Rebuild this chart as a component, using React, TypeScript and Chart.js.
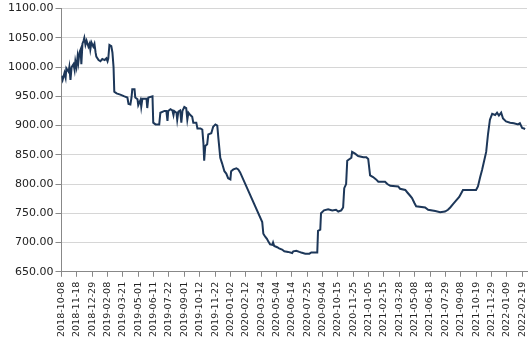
import React, { useEffect, useRef } from "react";
import { Chart, registerables } from "chart.js";

Chart.register(...registerables);

const START_DATE = "2018-10-08";

// days since START_DATE
const dayOffsets: number[] = [
  0, 3, 8, 11, 13, 19, 21, 24, 27, 32, 35, 37, 40, 43, 45, 48, 51, 53, 56, 59,
  61, 64, 67, 72, 75, 77, 80, 85, 88, 91, 93, 99, 104, 109, 115, 120, 123, 125, 128, 133,
  136, 139, 141, 147, 157, 168, 176, 179, 184, 187, 189, 195, 197, 203, 205, 211, 213, 216, 227, 229,
  232, 243, 245, 251, 261, 264, 275, 280, 283, 285, 291, 296, 299, 301, 307, 309, 312, 317, 320, 323,
  328, 333, 336, 339, 344, 349, 352, 360, 363, 371, 376, 379, 381, 384, 389, 392, 400, 405, 411, 416,
  419, 424, 429, 435, 440, 445, 451, 453, 459, 467, 472, 477, 536, 539, 544, 549, 552, 557, 563, 565,
  568, 576, 581, 589, 595, 605, 616, 619, 627, 635, 640, 651, 662, 667, 683, 685, 691, 693, 701, 712,
  723, 733, 739, 747, 752, 755, 760, 763, 774, 776, 784, 792, 806, 814, 819, 824, 832, 840, 846, 864,
  870, 878, 899, 904, 918, 923, 931, 936, 942, 947, 971, 979, 998, 1011, 1024, 1032, 1038, 1046, 1054, 1062,
  1067, 1072, 1091, 1107, 1112, 1118, 1123, 1128, 1134, 1139, 1144, 1150, 1158, 1163, 1168, 1174, 1179, 1187, 1198, 1208,
  1219, 1224, 1230, 1235, 1238,
];

const prices: number[] = [
  985, 978, 990, 982, 998, 992, 1000, 978, 1000, 1005, 995, 1010, 1000, 1018, 1008, 1025, 1030, 1005, 1040, 1045,
  1050, 1038, 1045, 1035, 1040, 1030, 1042, 1035, 1040, 1025, 1018, 1012, 1010, 1014, 1012, 1015, 1010, 1015, 1038, 1036,
  1025, 1000, 958, 955, 953, 950, 948, 937, 936, 948, 962, 962, 948, 945, 935, 944, 932, 946, 946, 930,
  948, 950, 905, 902, 902, 922, 925, 925, 908, 925, 928, 926, 918, 925, 922, 910, 924, 926, 905, 925,
  932, 930, 910, 922, 918, 915, 905, 905, 895, 895, 893, 870, 840, 865, 868, 885, 887, 898, 902, 900,
  878, 845, 835, 822, 818, 810, 808, 822, 825, 827, 825, 820, 735, 715, 710, 706, 702, 697, 696, 700,
  694, 692, 690, 688, 685, 684, 682, 685, 686, 684, 683, 681, 681, 683, 683, 720, 722, 750, 755, 757,
  755, 756, 753, 755, 760, 793, 800, 840, 845, 855, 852, 848, 846, 846, 843, 815, 812, 808, 804, 804,
  800, 797, 796, 792, 790, 786, 780, 776, 768, 762, 760, 756, 754, 752, 753, 756, 760, 766, 772, 778,
  784, 790, 790, 790, 796, 812, 824, 838, 855, 886, 910, 920, 918, 922, 917, 922, 912, 907, 905, 904,
  902, 904, 896, 895, 894,
];

const tickLabels: string[] = [
  "2018-10-08", "2018-11-18", "2018-12-29", "2019-02-08", "2019-03-21", "2019-05-01",
  "2019-06-11", "2019-07-22", "2019-09-01", "2019-10-12", "2019-11-22", "2020-01-02",
  "2020-02-12", "2020-03-24", "2020-05-04", "2020-06-14", "2020-07-25", "2020-09-04",
  "2020-10-15", "2020-11-25", "2021-01-05", "2021-02-15", "2021-03-28", "2021-05-08",
  "2021-06-18", "2021-07-29", "2021-09-08", "2021-10-19", "2021-11-29", "2022-01-09",
  "2022-02-19",
];

const X_MAX_DAY = 1243;

const dayOf = (s: string) =>
  Math.round((Date.parse(s) - Date.parse(START_DATE)) / 86400000);

export default function App() {
  const ref = useRef<HTMLCanvasElement | null>(null);

  useEffect(() => {
    if (!ref.current) return;
    const tickDays = tickLabels.map(dayOf);
    const labelByDay = new Map<number, string>();
    tickLabels.forEach((l, i) => labelByDay.set(tickDays[i], l));
    const points = dayOffsets.map((d, i) => ({ x: d, y: prices[i] }));

    const chart = new Chart(ref.current, {
      type: "line",
      data: {
        datasets: [
          {
            data: points,
            borderColor: "#1d3759",
            borderWidth: 2,
            pointRadius: 0,
            tension: 0,
            fill: false,
          },
        ],
      },
      options: {
        responsive: false,
        animation: false,
        layout: { padding: { left: 6, right: 3, top: 0, bottom: 12 } },
        plugins: { legend: { display: false }, tooltip: { enabled: false } },
        scales: {
          x: {
            type: "linear",
            min: 0,
            max: X_MAX_DAY,
            afterBuildTicks: (axis: any) => {
              axis.ticks = tickDays.map((v) => ({ value: v }));
            },
            afterFit: (axis: any) => {
              axis.paddingRight = 0;
              axis.paddingLeft = 0;
            },
            ticks: {
              autoSkip: false,
              minRotation: 90,
              maxRotation: 90,
              padding: 5,
              color: "#222",
              font: { family: "DejaVu Sans", size: 9.5 },
              callback: (v: any) => labelByDay.get(Number(v)) ?? "",
            },
            grid: {
              drawOnChartArea: false,
              drawTicks: true,
              tickLength: 5,
              tickColor: "#888",
            },
            border: { color: "#888", width: 1 },
          },
          y: {
            min: 650,
            max: 1100,
            ticks: {
              stepSize: 50,
              padding: 2,
              color: "#222",
              font: { family: "DejaVu Sans", size: 11 },
              callback: (v: any) => Number(v).toFixed(2),
            },
            grid: {
              color: "#d6d6d6",
              lineWidth: 1,
              drawTicks: true,
              tickLength: 6,
              tickColor: "#888",
            },
            border: { color: "#888", width: 1 },
          },
        },
      },
    });
    return () => chart.destroy();
  }, []);

  return (
    <canvas
      ref={ref}
      width={530}
      height={354}
      style={{ position: "fixed", left: 0, top: 0, display: "block" }}
    />
  );
}
